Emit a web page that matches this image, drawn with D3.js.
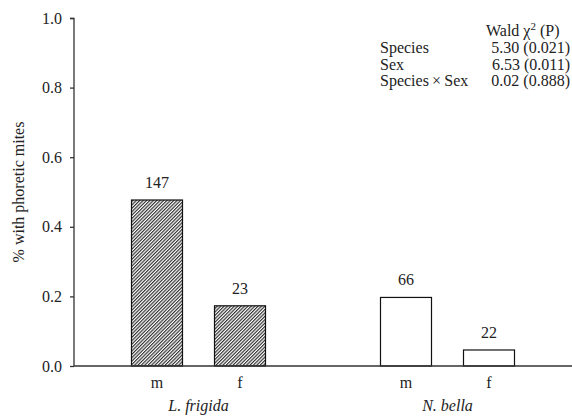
<!DOCTYPE html>
<html>
<head>
<meta charset="utf-8">
<script src="https://cdn.jsdelivr.net/npm/d3@7"></script>
<style>
body{margin:0;background:#fff;}
text{font-family:"Liberation Serif","Times New Roman",serif;fill:#222;}
</style>
</head>
<body>
<div id="container"></div>
<script>
// data
var species = ['L. frigida','N. bella'];
var sexes = ['m','f'];
var values = [0.477, 0.173, 0.197, 0.046];   // L.f m, L.f f, N.b m, N.b f
var counts = [147, 23, 66, 22];
var slots = [1, 2, 4, 5];                    // slot of each bar on the x axis
var yTicks = [0, 0.2, 0.4, 0.6, 0.8, 1.0];
var statRows = ['Species','Sex','Species\u2009\u00d7\u2009Sex'];
var statVals = ['5.30 (0.021)','6.53 (0.011)','0.02 (0.888)'];

var w = 572, h = 420;
var svg = d3.select('#container').append('svg')
	.attr('width',w).attr('height',h);

var x = d3.scaleLinear().domain([0,6]).range([74,572]);
var y = d3.scaleLinear().domain([0,1]).range([366,18]);
var barW = 51;

// hatch pattern for L. frigida
var hs = 2.4;
var defs = svg.append('defs');
var pat = defs.append('pattern')
	.attr('id','hatch')
	.attr('patternUnits','userSpaceOnUse')
	.attr('width',hs).attr('height',hs)
	.attr('patternTransform','rotate(45)');
pat.append('rect').attr('width',hs).attr('height',hs).attr('fill','#fff');
pat.append('line')
	.attr('x1',0.6).attr('y1',0).attr('x2',0.6).attr('y2',hs)
	.attr('stroke','#222').attr('stroke-width',1.1);

// bars
var bars = values.map(function(v,i){
	return {v:v, n:counts[i], slot:slots[i], sp:Math.floor(i/2), sex:sexes[i%2]};
});

svg.selectAll('rect.bar')
	.data(bars)
	.enter().append('rect')
	.classed('bar',true)
	.attr('x',function(d){ return x(d.slot)-barW/2; })
	.attr('y',function(d){ return y(d.v); })
	.attr('width',barW)
	.attr('height',function(d){ return y(0)-y(d.v); })
	.attr('fill',function(d){ return d.sp===0 ? 'url(#hatch)' : '#fff'; })
	.attr('stroke','#111')
	.attr('stroke-width',1.2);

svg.selectAll('text.count')
	.data(bars)
	.enter().append('text')
	.classed('count',true)
	.attr('x',function(d){ return x(d.slot); })
	.attr('y',function(d){ return y(d.v)-12; })
	.attr('text-anchor','middle')
	.style('font-size','16px')
	.text(function(d){ return d.n; });

// y axis
var yAxis = d3.axisLeft(y)
	.tickValues(yTicks)
	.tickFormat(d3.format('.1f'))
	.tickSize(4)
	.tickPadding(8);
var yG = svg.append('g')
	.attr('transform','translate(' +x(0) +',0)')
	.call(yAxis);
yG.select('.domain').attr('stroke','#333').attr('stroke-width',1.3).attr('d','M-4,18.5H0V366');
yG.selectAll('.tick line').attr('stroke','#333').attr('stroke-width',1.3);
yG.selectAll('.tick text')
	.style('font-size','16px')
	.style('font-family','"Liberation Serif",serif')
	.attr('fill','#222');

// x axis baseline
svg.append('line')
	.attr('x1',x(0)).attr('x2',x(6))
	.attr('y1',y(0)).attr('y2',y(0))
	.attr('stroke','#333').attr('stroke-width',1.6);

svg.selectAll('text.sex')
	.data(bars)
	.enter().append('text')
	.classed('sex',true)
	.attr('x',function(d){ return x(d.slot); })
	.attr('y',388)
	.attr('text-anchor','middle')
	.style('font-size','16px')
	.text(function(d){ return d.sex; });

svg.selectAll('text.species')
	.data(species)
	.enter().append('text')
	.classed('species',true)
	.attr('x',function(d,i){ return x(slots[i*2]+0.5); })
	.attr('y',411)
	.attr('text-anchor','middle')
	.style('font-size','16px')
	.style('font-style','italic')
	.text(function(d){ return d; });

// y label
svg.append('text')
	.attr('transform','translate(24,192)rotate(-90)')
	.attr('text-anchor','middle')
	.style('font-size','16px')
	.text('% with phoretic mites');

// stats table
var head = svg.append('text')
	.attr('x',486).attr('y',36)
	.style('font-size','16px');
head.append('tspan').text('Wald \u03c7');
head.append('tspan').attr('dy',-6).style('font-size','11px').text('2');
head.append('tspan').attr('dy',6).text(' (P)');

svg.selectAll('text.rowlab')
	.data(statRows)
	.enter().append('text')
	.classed('rowlab',true)
	.attr('x',380)
	.attr('y',function(d,i){ return 53 +i*16.5; })
	.style('font-size','16px')
	.text(function(d){ return d; });

svg.selectAll('text.rowval')
	.data(statVals)
	.enter().append('text')
	.classed('rowval',true)
	.attr('x',570)
	.attr('y',function(d,i){ return 53 +i*16.5; })
	.attr('text-anchor','end')
	.style('font-size','16px')
	.text(function(d){ return d; });
</script>
</body>
</html>
